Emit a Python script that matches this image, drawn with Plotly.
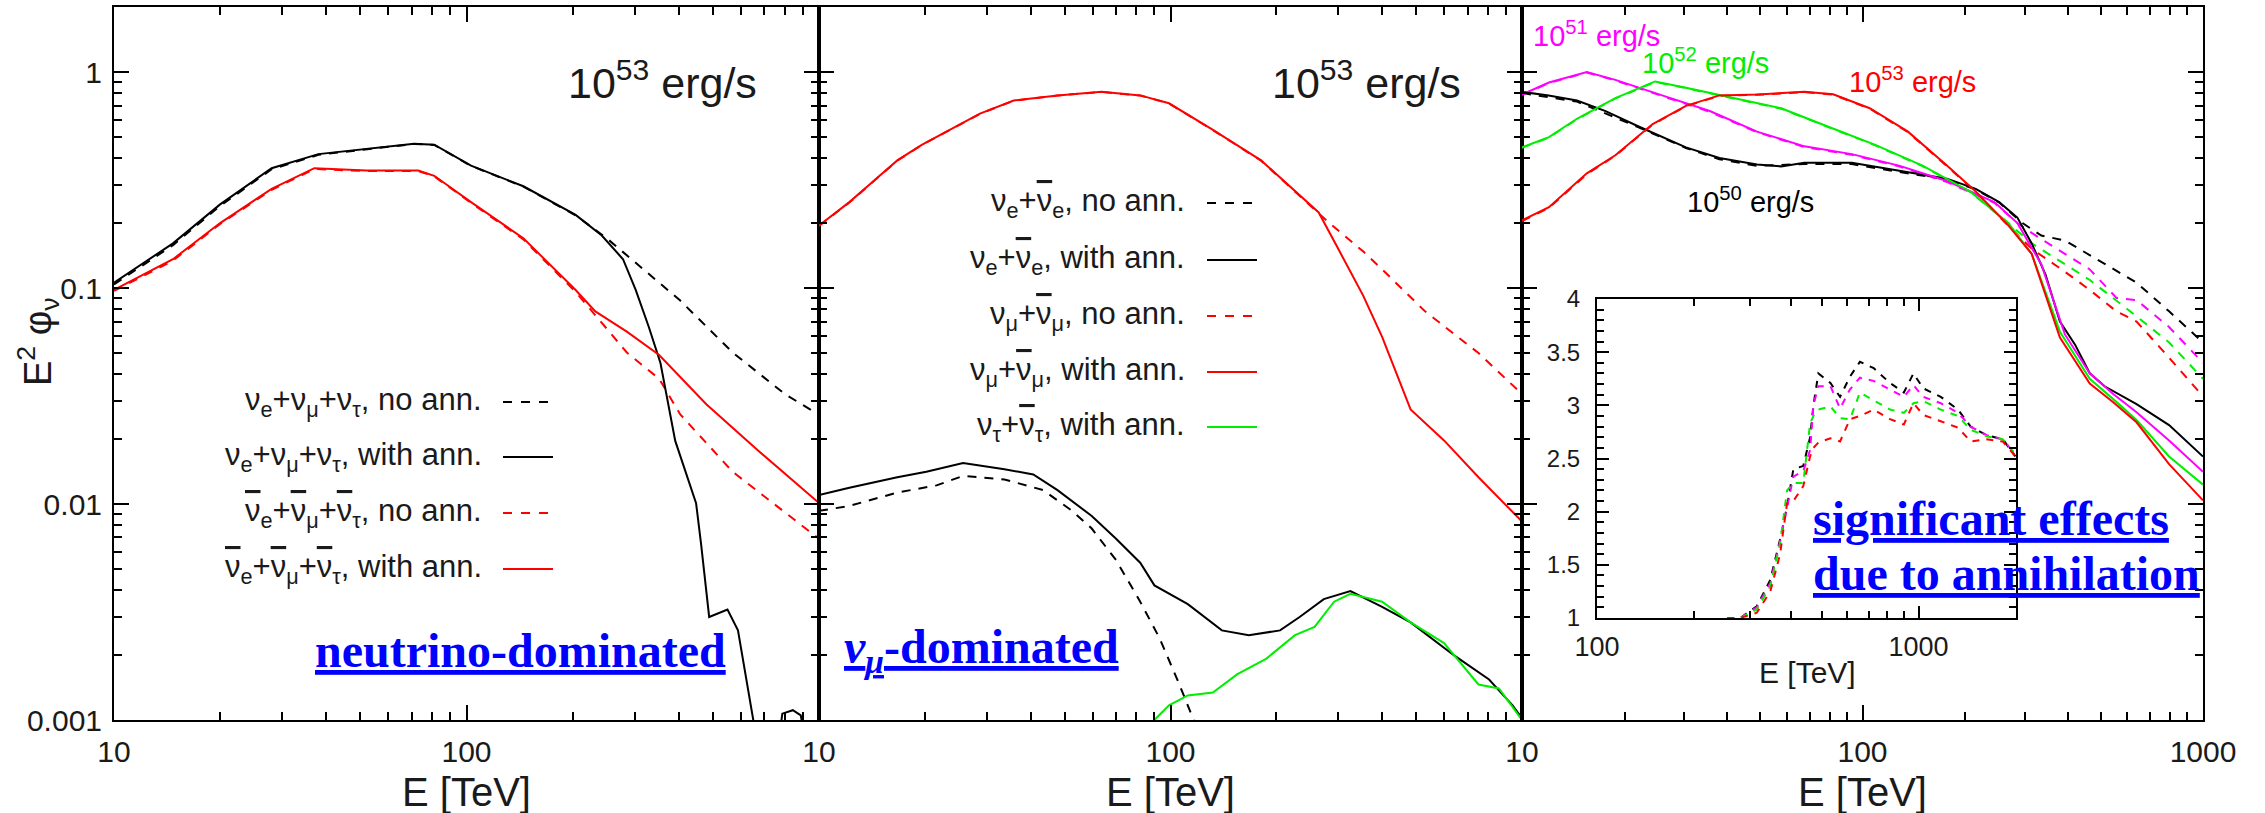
import plotly.graph_objects as go

W, H = 2265, 813

# ---------------- Panel 1: neutrino-dominated ----------------
p1_E_nu_ann = [10, 14.7, 20, 28, 38, 52, 71, 81, 103, 145, 204, 242, 278, 302, 329, 355, 391, 448, 463, 488, 550, 589, 653, 700, 760, 787, 843, 888, 940, 1000]
p1_F_nu_ann = [0.106, 0.161, 0.244, 0.359, 0.417, 0.441, 0.466, 0.461, 0.369, 0.296, 0.218, 0.175, 0.136, 0.098, 0.066, 0.045, 0.0196, 0.0101, 0.0065, 0.003, 0.00325, 0.0026, 0.001, 0.0005, 0.0007, 0.00107, 0.00111, 0.00105, 0.0006, 0.0004]
p1_E_nu_no = [10, 14.7, 20, 28, 38, 52, 71, 81, 103, 145, 204, 250, 404, 569, 800, 1000]
p1_F_nu_no = [0.104, 0.158, 0.24, 0.355, 0.414, 0.44, 0.465, 0.46, 0.368, 0.295, 0.217, 0.17, 0.0875, 0.0503, 0.0323, 0.0259]
p1_E_bar_ann = [10, 14.7, 20, 28, 37, 52, 73, 81, 103, 145, 204, 232, 285, 352, 479, 674, 1000]
p1_F_bar_ann = [0.098, 0.136, 0.2, 0.288, 0.359, 0.35, 0.35, 0.331, 0.25, 0.17, 0.098, 0.078, 0.0628, 0.049, 0.029, 0.0176, 0.0101]
p1_E_bar_no = [10, 14.7, 20, 28, 37, 52, 73, 81, 103, 145, 204, 285, 352, 404, 569, 800, 1000]
p1_F_bar_no = [0.097, 0.134, 0.198, 0.285, 0.356, 0.348, 0.348, 0.329, 0.248, 0.168, 0.096, 0.0503, 0.038, 0.026, 0.0141, 0.0091, 0.0069]

# ---------------- Panel 2: nu_mu-dominated ----------------
p2_E_mu_ann = [10, 12.2, 14.3, 16.7, 19.6, 23, 28.7, 35.8, 47.7, 63.7, 82, 99, 131, 181, 226, 264, 300, 353, 400, 482, 600, 752, 1000]
p2_F_mu_ann = [0.195, 0.25, 0.313, 0.39, 0.46, 0.53, 0.642, 0.738, 0.78, 0.81, 0.78, 0.717, 0.544, 0.39, 0.28, 0.224, 0.152, 0.0925, 0.0594, 0.0274, 0.0197, 0.0133, 0.0083]
p2_E_mu_no = [10, 12.2, 14.3, 16.7, 19.6, 23, 28.7, 35.8, 47.7, 63.7, 82, 99, 131, 181, 226, 264, 283, 353, 400, 530, 752, 1000]
p2_F_mu_no = [0.194, 0.249, 0.312, 0.389, 0.459, 0.529, 0.641, 0.737, 0.779, 0.809, 0.779, 0.716, 0.543, 0.389, 0.279, 0.223, 0.2, 0.148, 0.122, 0.078, 0.05, 0.0323]
p2_E_e_ann = [10, 12.2, 16.7, 20.2, 25.7, 33.7, 40.7, 47.7, 59.7, 70, 82, 90, 112, 140, 167, 205, 233, 273, 325, 400, 482, 644, 806, 940, 1000]
p2_F_e_ann = [0.011, 0.0119, 0.0133, 0.0141, 0.0155, 0.0145, 0.0137, 0.0116, 0.0088, 0.0069, 0.00535, 0.0042, 0.00344, 0.0026, 0.00247, 0.0026, 0.003, 0.00363, 0.00395, 0.00334, 0.00283, 0.00198, 0.00154, 0.00117, 0.00102]
p2_E_e_no = [10, 12.2, 16.7, 21.6, 25.7, 33.7, 43.4, 52.5, 59.7, 70, 82, 93, 106, 116, 132]
p2_F_e_no = [0.0093, 0.0098, 0.0113, 0.0122, 0.0135, 0.013, 0.0116, 0.0093, 0.0077, 0.0055, 0.00353, 0.0024, 0.00146, 0.001, 0.0006]
p2_E_tau_ann = [70, 90, 99, 112, 132, 155, 187, 226, 257, 292, 325, 400, 482, 600, 752, 860, 1000]
p2_F_tau_ann = [0.0007, 0.001, 0.00117, 0.0013, 0.00134, 0.00163, 0.00192, 0.00247, 0.0027, 0.00353, 0.00384, 0.00353, 0.00283, 0.00227, 0.00146, 0.0014, 0.001]

# ---------------- Panel 3: luminosity dependence ----------------
p3_E_50 = [10, 11.97, 14.5, 17.6, 22, 25.8, 30.3, 38, 49, 57.7, 67.5, 93, 128, 177, 215, 252, 285, 314, 345, 380, 421, 465, 514, 638, 795, 1000]
p3_F_50 = [0.81, 0.78, 0.738, 0.66, 0.56, 0.5, 0.448, 0.4, 0.373, 0.366, 0.38, 0.38, 0.349, 0.321, 0.288, 0.25, 0.212, 0.161, 0.115, 0.07, 0.0547, 0.0403, 0.0351, 0.029, 0.0232, 0.0166]
p3_E_50no = [10, 14.5, 22, 30.3, 38, 49, 67.5, 93, 128, 177, 215, 252, 295, 335, 393, 514, 638, 795, 1000]
p3_F_50no = [0.80, 0.73, 0.555, 0.445, 0.395, 0.368, 0.375, 0.375, 0.345, 0.318, 0.286, 0.249, 0.2, 0.175, 0.166, 0.129, 0.106, 0.078, 0.056]
p3_E_51 = [10, 12, 15.5, 18.8, 25.8, 35.6, 49, 67.5, 93, 128, 177, 244, 285, 335, 393, 465, 545, 638, 795, 1000]
p3_F_51 = [0.788, 0.895, 1.0, 0.92, 0.78, 0.66, 0.53, 0.453, 0.417, 0.369, 0.313, 0.25, 0.2, 0.129, 0.061, 0.0403, 0.0323, 0.0266, 0.0197, 0.0141]
p3_E_51no = [10, 12, 15.5, 18.8, 25.8, 35.6, 49, 67.5, 93, 128, 177, 244, 285, 314, 393, 465, 557, 638, 795, 1000]
p3_F_51no = [0.785, 0.89, 0.995, 0.915, 0.775, 0.655, 0.527, 0.45, 0.414, 0.366, 0.31, 0.248, 0.2, 0.18, 0.144, 0.122, 0.09, 0.088, 0.066, 0.045]
p3_E_52 = [10, 12, 14.5, 18.8, 24.6, 30.3, 41.8, 57.7, 79, 109, 150, 207, 268, 314, 380, 465, 545, 638, 795, 1000]
p3_F_52 = [0.448, 0.5, 0.608, 0.758, 0.905, 0.847, 0.758, 0.68, 0.56, 0.46, 0.369, 0.28, 0.2, 0.144, 0.0628, 0.038, 0.0306, 0.0245, 0.0166, 0.0123]
p3_E_52no = [10, 12, 14.5, 18.8, 24.6, 30.3, 41.8, 57.7, 79, 109, 150, 207, 268, 314, 393, 465, 638, 795, 1000]
p3_F_52no = [0.446, 0.498, 0.605, 0.755, 0.9, 0.843, 0.755, 0.677, 0.558, 0.458, 0.367, 0.279, 0.2, 0.161, 0.129, 0.109, 0.074, 0.056, 0.038]
p3_E_53 = [10, 12, 15.5, 18.8, 24.2, 30.3, 38, 49, 67.5, 82, 105, 136, 177, 215, 268, 314, 380, 465, 545, 638, 795, 1000]
p3_F_53 = [0.206, 0.237, 0.34, 0.412, 0.575, 0.698, 0.78, 0.788, 0.81, 0.79, 0.68, 0.53, 0.369, 0.28, 0.195, 0.144, 0.059, 0.0361, 0.0296, 0.0239, 0.0153, 0.0104]
p3_E_53no = [10, 12, 15.5, 18.8, 24.2, 30.3, 38, 49, 67.5, 82, 105, 136, 177, 215, 268, 314, 393, 465, 557, 638, 795, 1000]
p3_F_53no = [0.204, 0.235, 0.337, 0.41, 0.572, 0.695, 0.777, 0.785, 0.807, 0.787, 0.677, 0.527, 0.367, 0.279, 0.194, 0.152, 0.119, 0.098, 0.078, 0.07, 0.0476, 0.0315]

# ---------------- Inset: ratio no-ann / with-ann ----------------
in_E = [254, 279, 314, 346, 371, 390, 408, 438, 460, 471, 488, 532, 570, 612, 657, 725, 815, 900, 964, 1034, 1172, 1326, 1452, 1628, 1829, 2000]
in_R50 = [1.0, 1.0, 1.11, 1.36, 1.74, 2.05, 2.40, 2.43, 2.70, 3.0, 3.30, 3.21, 3.08, 3.27, 3.41, 3.35, 3.21, 3.12, 3.30, 3.16, 3.08, 2.96, 2.80, 2.72, 2.68, 2.52]
in_R51 = [1.0, 1.0, 1.10, 1.33, 1.72, 2.05, 2.33, 2.38, 2.58, 3.0, 3.18, 3.18, 2.97, 3.15, 3.26, 3.23, 3.15, 3.08, 3.19, 3.08, 3.02, 2.93, 2.80, 2.72, 2.68, 2.54]
in_R52 = [1.0, 1.0, 1.08, 1.30, 1.70, 2.20, 2.27, 2.27, 2.83, 2.90, 2.96, 2.99, 2.88, 2.87, 3.12, 3.05, 2.96, 2.93, 3.02, 3.04, 2.96, 2.90, 2.77, 2.71, 2.68, 2.54]
in_R53 = [1.0, 1.0, 1.05, 1.25, 1.60, 2.08, 2.10, 2.24, 2.52, 2.60, 2.65, 2.69, 2.66, 2.87, 2.90, 2.96, 2.87, 2.82, 3.02, 2.91, 2.85, 2.79, 2.66, 2.68, 2.66, 2.52]

# ---------------- Text ----------------
NUB = "<span style='text-decoration:overline'>\u03bd</span>"
leg1 = ["\u03bd<sub>e</sub>+\u03bd<sub>\u03bc</sub>+\u03bd<sub>\u03c4</sub>, no ann.",
        "\u03bd<sub>e</sub>+\u03bd<sub>\u03bc</sub>+\u03bd<sub>\u03c4</sub>, with ann.",
        NUB + "<sub>e</sub>+" + NUB + "<sub>\u03bc</sub>+" + NUB + "<sub>\u03c4</sub>, no ann.",
        NUB + "<sub>e</sub>+" + NUB + "<sub>\u03bc</sub>+" + NUB + "<sub>\u03c4</sub>, with ann."]
leg2 = ["\u03bd<sub>e</sub>+" + NUB + "<sub>e</sub>, no ann.",
        "\u03bd<sub>e</sub>+" + NUB + "<sub>e</sub>, with ann.",
        "\u03bd<sub>\u03bc</sub>+" + NUB + "<sub>\u03bc</sub>, no ann.",
        "\u03bd<sub>\u03bc</sub>+" + NUB + "<sub>\u03bc</sub>, with ann.",
        "\u03bd<sub>\u03c4</sub>+" + NUB + "<sub>\u03c4</sub>, with ann."]

BLACK, RED, GREEN, MAG = "#000000", "#ff0000", "#00ee00", "#ff00ff"
DASH = "9px,8px"
LW = 2

fig = go.Figure()

def add(x, y, color, dash, xa, ya):
    fig.add_trace(go.Scatter(x=x, y=y, mode="lines", xaxis=xa, yaxis=ya, showlegend=False,
                             line=dict(color=color, width=LW, dash=dash)))

add(p1_E_nu_no, p1_F_nu_no, BLACK, DASH, "x", "y")
add(p1_E_bar_no, p1_F_bar_no, RED, DASH, "x", "y")
add(p1_E_nu_ann, p1_F_nu_ann, BLACK, "solid", "x", "y")
add(p1_E_bar_ann, p1_F_bar_ann, RED, "solid", "x", "y")

add(p2_E_e_no, p2_F_e_no, BLACK, DASH, "x2", "y2")
add(p2_E_mu_no, p2_F_mu_no, RED, DASH, "x2", "y2")
add(p2_E_e_ann, p2_F_e_ann, BLACK, "solid", "x2", "y2")
add(p2_E_mu_ann, p2_F_mu_ann, RED, "solid", "x2", "y2")
add(p2_E_tau_ann, p2_F_tau_ann, GREEN, "solid", "x2", "y2")

add(p3_E_50no, p3_F_50no, BLACK, DASH, "x3", "y3")
add(p3_E_51no, p3_F_51no, MAG, DASH, "x3", "y3")
add(p3_E_52no, p3_F_52no, GREEN, DASH, "x3", "y3")
add(p3_E_53no, p3_F_53no, RED, DASH, "x3", "y3")
add(p3_E_50, p3_F_50, BLACK, "solid", "x3", "y3")
add(p3_E_51, p3_F_51, MAG, "solid", "x3", "y3")
add(p3_E_52, p3_F_52, GREEN, "solid", "x3", "y3")
add(p3_E_53, p3_F_53, RED, "solid", "x3", "y3")

add(in_E, in_R50, BLACK, "7px,7px", "x4", "y4")
add(in_E, in_R51, MAG, "7px,7px", "x4", "y4")
add(in_E, in_R52, GREEN, "7px,7px", "x4", "y4")
add(in_E, in_R53, RED, "7px,7px", "x4", "y4")

def px(x):
    return x / W

def py(y):
    return 1 - y / H

SANS = "Liberation Sans, Arial, sans-serif"
SERIF = "Liberation Serif, Times New Roman, serif"
TICKFONT = dict(family=SANS, size=30, color="#1a1a1a")
minor_x = [20, 30, 40, 50, 60, 70, 80, 90, 200, 300, 400, 500, 600, 700, 800, 900]
minor_y = [v * m for v in (0.001, 0.01, 0.1, 1) for m in range(2, 10)]
AXW = 2

def xaxis_cfg(dom, vals, anchor):
    return dict(type="log", range=[1, 3], domain=dom, anchor=anchor, automargin=False, showline=True,
                linecolor="black", linewidth=AXW, mirror="ticks", ticks="inside", ticklen=15, tickwidth=1.5,
                tickcolor="black", tickvals=vals, ticktext=[str(v) for v in vals], tickfont=TICKFONT,
                showgrid=False, zeroline=False, ticklabelstandoff=4,
                minor=dict(tickvals=minor_x, ticks="inside", ticklen=8, tickwidth=1.5, tickcolor="black", showgrid=False))

def yaxis_cfg(anchor, labels):
    return dict(type="log", range=[-3, 0.3], domain=[py(720), py(7.3)], anchor=anchor, automargin=False,
                showline=True, linecolor="black", linewidth=AXW, mirror="ticks", ticks="inside", ticklen=15,
                tickwidth=1.5, tickcolor="black", tickvals=[0.001, 0.01, 0.1, 1],
                ticktext=["0.001", "0.01", "0.1", "1"], showticklabels=labels, tickfont=TICKFONT,
                showgrid=False, zeroline=False, ticklabelstandoff=4,
                minor=dict(tickvals=minor_y, ticks="inside", ticklen=8, tickwidth=1.5, tickcolor="black", showgrid=False))

layout = dict(
    width=W, height=H, margin=dict(l=0, r=0, t=0, b=0, pad=0, autoexpand=False), paper_bgcolor="white",
    plot_bgcolor="rgba(0,0,0,0)", showlegend=False,
    xaxis=xaxis_cfg([px(114), px(819)], [10, 100], "y"),
    xaxis2=xaxis_cfg([px(819), px(1522)], [10, 100], "y2"),
    xaxis3=xaxis_cfg([px(1522), px(2203)], [10, 100, 1000], "y3"),
    yaxis=yaxis_cfg("x", True),
    yaxis2=yaxis_cfg("x2", False),
    yaxis3=yaxis_cfg("x3", False),
    xaxis4=dict(type="log", range=[2, 3.303], domain=[px(1597), px(2016)], anchor="y4", automargin=False,
                showline=True, linecolor="black", linewidth=AXW, mirror="ticks", ticks="inside", ticklen=12,
                tickwidth=1.5, tickcolor="black", tickvals=[100, 1000], ticktext=["100", "1000"],
                tickfont=dict(family=SANS, size=27, color="#1a1a1a"),
                showgrid=False, zeroline=False, ticklabelstandoff=4,
                minor=dict(tickvals=[200, 300, 400, 500, 600, 700, 800, 900, 2000], ticks="inside", ticklen=7,
                           tickwidth=1.5, tickcolor="black", showgrid=False)),
    yaxis4=dict(range=[1, 4], domain=[py(618), py(299)], anchor="x4", automargin=False, showline=True,
                linecolor="black", linewidth=AXW, mirror="ticks", ticks="inside", ticklen=12, tickwidth=1.5,
                tickcolor="black", tickvals=[1, 1.5, 2, 2.5, 3, 3.5, 4],
                ticktext=["1", "1.5", "2", "2.5", "3", "3.5", "4"],
                tickfont=dict(family=SANS, size=24, color="#1a1a1a"),
                showgrid=False, zeroline=False, ticklabelstandoff=10,
                minor=dict(dtick=0.1, tick0=1, ticks="inside", ticklen=7, tickwidth=1.5, tickcolor="black",
                           showgrid=False)),
)
fig.update_layout(**layout)

ann = []

def text(x, y, s, size, color="#1a1a1a", xanchor="center", family=SANS, angle=0):
    ann.append(dict(x=px(x), y=py(y), xref="paper", yref="paper", text=s, showarrow=False,
                    xanchor=xanchor, yanchor="middle", font=dict(family=family, size=size, color=color),
                    textangle=angle, borderpad=0))

# axis titles
for cx in (466, 1170, 1862):
    text(cx, 792, "E [TeV]", 40)
text(38, 342, "E<sup>2</sup> \u03c6<sub>\u03bd</sub>", 38, angle=-90)
text(1807, 672, "E [TeV]", 30)

# luminosity labels
text(758, 80, "10<sup>53</sup> erg/s", 43, xanchor="right")
text(1462, 80, "10<sup>53</sup> erg/s", 43, xanchor="right")
text(1532, 34, "10<sup>51</sup> erg/s", 29, color=MAG, xanchor="left")
text(1641, 61, "10<sup>52</sup> erg/s", 29, color=GREEN, xanchor="left")
text(1848, 80, "10<sup>53</sup> erg/s", 29, color=RED, xanchor="left")
text(1686, 200, "10<sup>50</sup> erg/s", 29, color=BLACK, xanchor="left")

# legends
shapes = []
rows1 = [402, 457, 513, 569]
sty1 = [(BLACK, "dash"), (BLACK, "solid"), (RED, "dash"), (RED, "solid")]
for yy, s, (c, d) in zip(rows1, leg1, sty1):
    text(483, yy, s, 31, xanchor="right")
    shapes.append(dict(type="line", xref="paper", yref="paper", x0=px(503), x1=px(553), y0=py(yy), y1=py(yy),
                       line=dict(color=c, width=LW, dash=d)))
rows2 = [203, 260, 316, 372, 427]
sty2 = [(BLACK, "dash"), (BLACK, "solid"), (RED, "dash"), (RED, "solid"), (GREEN, "solid")]
for yy, s, (c, d) in zip(rows2, leg2, sty2):
    text(1186, yy, s, 31, xanchor="right")
    shapes.append(dict(type="line", xref="paper", yref="paper", x0=px(1207), x1=px(1257), y0=py(yy), y1=py(yy),
                       line=dict(color=c, width=LW, dash=d)))

# blue highlighted notes
BLUE = "#0000ff"
text(314, 650, "<b><u>neutrino-dominated</u></b>", 48, color=BLUE, xanchor="left", family=SERIF)
text(843, 650, "<b><u><i>\u03bd<sub>\u03bc</sub></i>-dominated</u></b>", 48, color=BLUE, xanchor="left", family=SERIF)
text(1812, 518, "<b><u>significant effects</u></b>", 48, color=BLUE, xanchor="left", family=SERIF)
text(1812, 573, "<b><u>due to annihilation</u></b>", 48, color=BLUE, xanchor="left", family=SERIF)

fig.update_layout(annotations=ann, shapes=shapes)
fig.write_html("out.html")
